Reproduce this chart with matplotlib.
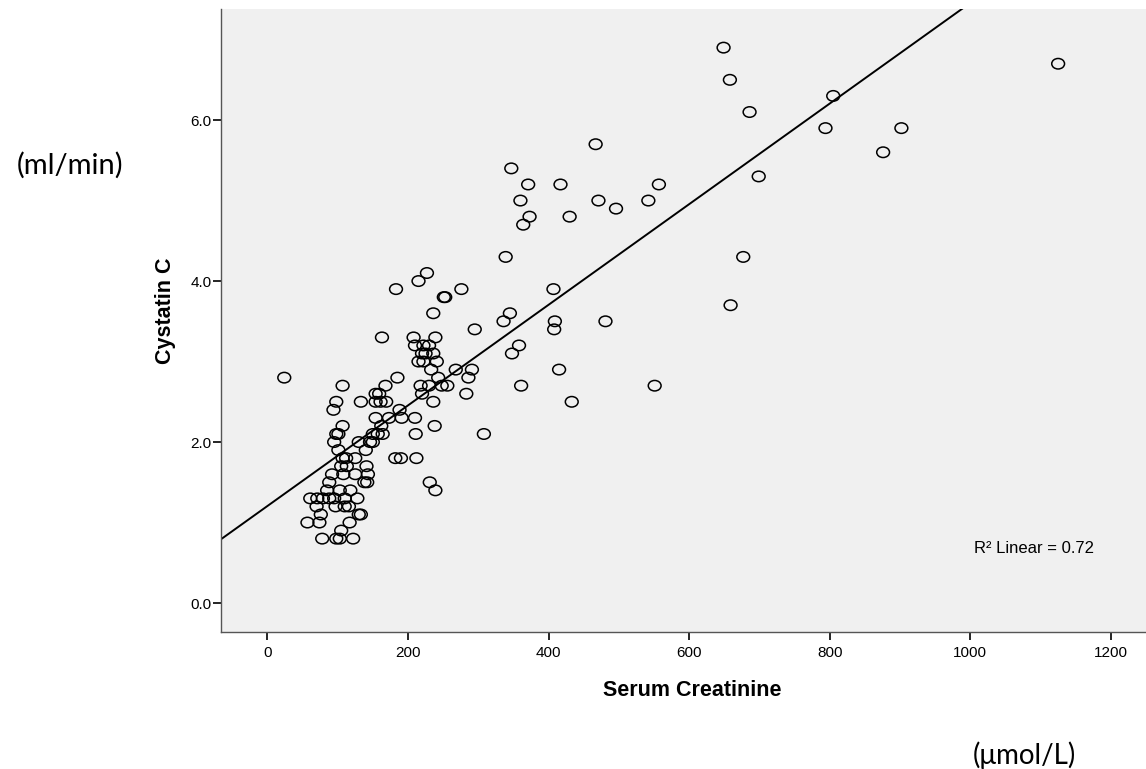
import numpy as np
import matplotlib
matplotlib.use('Agg')
from matplotlib import pyplot as plt
from matplotlib.path import Path
from matplotlib.transforms import Affine2D

# Values (serum creatinine in umol/L, cystatin C)
creatinine = [78, 98, 103, 122,  105,  57, 74, 117,  76, 130, 133,  70, 97, 110, 116,
              61, 71, 79, 88, 95, 110, 128,  85, 103, 118, 239,  88, 138, 142, 231,
              92, 108, 125, 143,  105, 113, 141,  107, 112, 125, 182, 190, 212,  101, 140,
              95, 130, 146, 150,  98, 101, 150, 157, 164, 211, 308,  107, 162, 238,
              154, 173, 191, 210,  94, 188,  98, 133, 154, 161, 169, 236, 433,
              154, 159, 220, 283,  107, 168, 218, 230, 248, 256, 361, 551,
              24, 185, 243, 286,  233, 268, 291, 415,  215, 222, 241,  220, 225, 236, 348,
              210, 222, 230, 358,  163, 208, 239,  295, 408,  336, 409, 481,  236, 345,
              659,  251, 253,  183, 276, 407,  215,  227,  339, 677,  364,  373, 430,  496,
              360, 471, 542,  371, 417, 557,  699,  347,  876,  467,  794, 902,  686,  805,
              658,  1125,  649]
cystatin_c = [0.8]*4 + [0.9] + [1.0]*3 + [1.1]*3 + [1.2]*4 + \
             [1.3]*7 + [1.4]*4 + [1.5]*4 + \
             [1.6]*4 + [1.7]*3 + [1.8]*6 + [1.9]*2 + \
             [2.0]*4 + [2.1]*7 + [2.2]*3 + \
             [2.3]*4 + [2.4]*2 + [2.5]*7 + \
             [2.6]*4 + [2.7]*8 + \
             [2.8]*4 + [2.9]*4 + [3.0]*3 + [3.1]*4 + \
             [3.2]*4 + [3.3]*3 + [3.4]*2 + [3.5]*3 + [3.6]*2 + \
             [3.7] + [3.8]*2 + [3.9]*3 + [4.0] + [4.1] + [4.3]*2 + [4.7] + [4.8]*2 + [4.9] + \
             [5.0]*3 + [5.2]*3 + [5.3] + [5.4] + [5.6] + [5.7] + [5.9]*2 + [6.1] + [6.3] + \
             [6.5] + [6.7] + [6.9]

fit_intercept = 1.205
fit_slope = 0.00625
r_squared = 0.72

xticks = [0, 200, 400, 600, 800, 1000, 1200]
yticks = [0.0, 2.0, 4.0, 6.0]

plt.rcParams['font.family'] = ['Liberation Sans', 'DejaVu Sans']

W, H = 1146, 769
fig = plt.figure(figsize=(W/100, H/100), dpi=100, facecolor='white')
ax = fig.add_axes([221/W, (H-632)/H, (W-221)/W, (632-9)/H], facecolor='#f0f0f0')
ax.set_xlim(-66, 1250)
ax.set_ylim(-0.36, 7.38)

# slightly wide open ellipse, like the SPSS marker
ring = Path.unit_circle().transformed(Affine2D().scale(1.0, 0.82))
ax.scatter(creatinine, cystatin_c, marker=ring, s=85, facecolors='none',
           edgecolors='black', linewidths=1.1, zorder=3)

xs = np.array(ax.get_xlim())
ax.plot(xs, fit_intercept + fit_slope*xs, color='black', lw=1.4, zorder=2)

ax.set_xticks(xticks)
ax.set_xticklabels([str(t) for t in xticks])
ax.set_yticks(yticks)
ax.set_yticklabels(['%.1f' % t for t in yticks])
ax.tick_params(axis='both', direction='out', length=6, width=1.2, color='black',
               labelsize=11, labelcolor='black')
ax.tick_params(axis='y', pad=1)
ax.tick_params(axis='x', pad=4)

for s in ['top', 'right']:
    ax.spines[s].set_visible(False)
for s in ['left', 'bottom']:
    ax.spines[s].set_color('#555555')
    ax.spines[s].set_linewidth(1.0)

ax.text(1006, 0.68, 'R² Linear = %.2f' % r_squared, ha='left', va='center', fontsize=12)

fig.text(692/W, 1-690/H, 'Serum Creatinine', ha='center', va='center', fontsize=15.5, fontweight='bold')
fig.text(165/W, 1-311/H, 'Cystatin C', ha='center', va='center', rotation=90, fontsize=15.5, fontweight='bold')
fig.text(70/W, 1-165/H, '(ml/min)', ha='center', va='center', fontsize=21, family=['Lato', 'DejaVu Sans'])
fig.text(1024/W, 1-755/H, '(μmol/L)', ha='center', va='center', fontsize=20, family=['Lato', 'DejaVu Sans'])

fig.savefig('out.png', dpi=100, facecolor='white')
